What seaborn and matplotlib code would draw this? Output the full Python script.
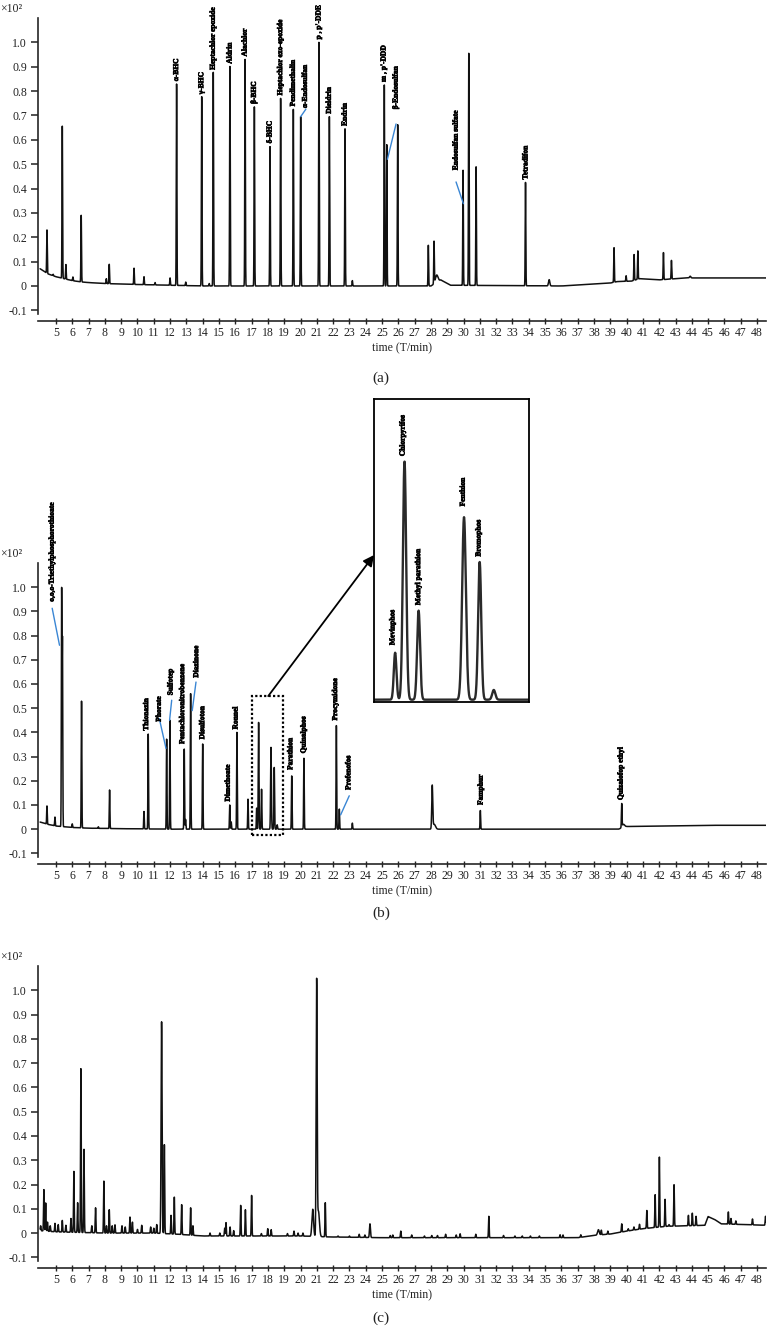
import numpy as np
import matplotlib
matplotlib.use("Agg")
import matplotlib.pyplot as plt
import matplotlib.patheffects as pe
import seaborn as sns
from matplotlib.patches import Rectangle

sns.set_theme(style="ticks")
plt.rcParams["font.family"] = ["Liberation Serif", "DejaVu Serif"]

# ---------------- panel (a) : organochlorine standards ----------------
A_BASE_T = [4.0, 4.5, 5.0, 5.5, 6.0, 6.5, 7.0, 8.0, 10.0, 12.0, 14.0, 28.0, 28.6, 29.2,
            36.0, 38.0, 39.0, 39.4, 40.3, 40.8, 42.0, 43.0, 43.6, 48.6]
A_BASE_Y = [0.072, 0.05, 0.038, 0.03, 0.022, 0.017, 0.014, 0.01, 0.006, 0.003, 0.0, 0.0, 0.025, 0.003,
            0.0, 0.008, 0.012, 0.018, 0.02, 0.03, 0.025, 0.03, 0.033, 0.033]
A_PEAK_T = [4.45, 4.83, 5.39, 5.61, 6.04, 6.55, 8.09, 8.27, 9.79, 10.40, 11.08, 12.0, 12.40, 12.96,
            13.94, 14.4, 14.65, 15.67, 16.60, 17.17, 18.13, 18.78, 19.56, 20.01, 21.13, 21.77, 22.73,
            23.18, 25.14, 25.29, 25.96, 27.84, 28.19, 28.35, 28.9, 29.97, 30.32, 30.77, 33.8, 35.25,
            39.23, 39.97, 40.46, 40.69, 42.26, 42.75, 43.9]
A_PEAK_Y = [0.23, 0.048, 0.656, 0.088, 0.037, 0.29, 0.03, 0.089, 0.073, 0.038, 0.014, 0.033, 0.829, 0.016,
            0.777, 0.01, 0.877, 0.901, 0.930, 0.735, 0.572, 0.770, 0.725, 0.695, 1.0, 0.695, 0.645,
            0.022, 0.825, 0.58, 0.662, 0.167, 0.18, 0.045, 0.012, 0.475, 0.955, 0.489, 0.425, 0.026,
            0.157, 0.042, 0.129, 0.144, 0.137, 0.105, 0.04]
A_WIDE = {28.35: 0.08, 35.25: 0.04, 43.9: 0.04}
A_LAB = ["α-BHC", "γ-BHC", "Heptachlor epoxide", "Aldrin", "Alachlor", "β-BHC", "δ-BHC",
         "Heptachlor exo-epoxide", "Pendimethalin", "α-Endosulfan", "p , p'-DDE", "Dieldrin",
         "Endrin", "m , p'-DDD", "β-Endosulfan", "Endosulfan sulfate", "Tetradifon"]
A_LAB_T = [12.40, 13.94, 14.65, 15.67, 16.60, 17.17, 18.13, 18.78, 19.56, 20.30, 21.13, 21.77,
           22.73, 25.12, 25.86, 29.54, 33.82]
A_LAB_Y = [0.84, 0.787, 0.887, 0.912, 0.942, 0.747, 0.585, 0.782, 0.737, 0.73, 1.012, 0.707,
           0.657, 0.837, 0.725, 0.475, 0.437]
A_LEAD = [((20.01, 0.695), (20.33, 0.726)),
          ((25.33, 0.52), (25.86, 0.665)),
          ((29.54, 0.427), (29.99, 0.338))]

# ---------------- panel (b) : organophosphorus standards ----------------
B_BASE_T = [4.0, 4.5, 5.0, 6.0, 7.0, 9.0, 12.0, 39.5, 40.0, 45.0, 48.6]
B_BASE_Y = [0.03, 0.02, 0.013, 0.007, 0.004, 0.002, 0.0, 0.0, 0.011, 0.016, 0.016]
B_PEAK_T = [4.45, 4.94, 5.35, 5.40, 6.0, 6.57, 7.6, 8.29, 10.40, 10.66, 11.79, 11.99, 12.87, 12.95,
            13.26, 14.0, 15.66, 15.75, 16.10, 16.78, 17.31, 17.43, 17.61, 18.19, 18.39, 18.57,
            19.46, 20.21, 22.2, 22.38, 23.18, 28.08, 28.2, 31.03, 39.7, 39.8]
B_PEAK_Y = [0.096, 0.05, 0.983, 0.775, 0.022, 0.529, 0.01, 0.162, 0.073, 0.393, 0.372, 0.45, 0.331, 0.04,
            0.56, 0.352, 0.10, 0.03, 0.40, 0.124, 0.087, 0.441, 0.165, 0.338, 0.255, 0.018,
            0.22, 0.293, 0.428, 0.083, 0.025, 0.176, 0.02, 0.077, 0.10, 0.02]
B_WIDE = {17.31: 0.017, 17.43: 0.021, 17.61: 0.019, 18.19: 0.024, 18.39: 0.02, 18.57: 0.02,
          28.08: 0.03, 28.2: 0.08, 39.8: 0.08}
B_LAB = ["o,o,o-Triethylphosphorothioate", "Thionazin", "Phorate", "Sulfotep",
         "Pentachloronitrobenzene", "Diazinone", "Disulfoton", "Dimethoate", "Ronnel",
         "Parathion", "Quinalphos", "Procymidone", "Profenofos", "Famphur", "Quizalofop ethyl"]
B_LAB_T = [4.77, 10.56, 11.34, 12.05, 12.77, 13.63, 14.0, 15.57, 16.04, 19.40, 20.21, 22.15,
           22.96, 31.07, 39.66]
B_LAB_Y = [0.94, 0.407, 0.444, 0.553, 0.352, 0.626, 0.371, 0.114, 0.412, 0.245, 0.313, 0.449,
           0.162, 0.10, 0.12]
B_LEAD = [((4.77, 0.913), (5.22, 0.76)),
          ((11.34, 0.457), (11.75, 0.334)),
          ((12.10, 0.533), (11.97, 0.45)),
          ((13.59, 0.608), (13.36, 0.49)),
          ((22.99, 0.138), (22.46, 0.059))]
IN_LAB = ["Mevinphos", "Chlorpyrifos", "Methyl parathion", "Fenthion", "Bromophos"]
IN_LAB_T = [17.28, 17.41, 17.61, 18.18, 18.38]
IN_LAB_Y = [0.101, 0.451, 0.175, 0.358, 0.265]

# ---------------- panel (c) : sample ----------------
C_BASE_T = [4.0, 5.0, 8.0, 11.0, 12.5, 14.0, 20.0, 21.8, 25.0, 37.0, 38.2, 39.0, 40.0, 41.0,
            42.5, 44.8, 45.0, 45.4, 45.8, 48.6]
C_BASE_Y = [0.01, 0.005, 0.0, 0.0, -0.005, -0.012, -0.012, -0.016, -0.019, -0.019, -0.008, -0.004,
            0.008, 0.018, 0.028, 0.032, 0.068, 0.056, 0.038, 0.032]
C_PEAK_T = [4.06, 4.26, 4.37, 4.48, 4.65, 4.94, 5.14, 5.39, 5.61, 5.92, 6.10, 6.33, 6.53, 6.72,
            7.2, 7.43, 7.94, 8.1, 8.27, 8.45, 8.62, 9.05, 9.25, 9.54, 9.69, 10.0, 10.26, 10.81,
            11.0, 11.18, 11.48, 11.65, 12.06, 12.26, 12.71, 13.26, 13.4, 14.45, 15.05, 15.35,
            15.43, 15.68, 15.9, 16.33, 16.62, 17.0, 17.6, 17.99, 18.2, 19.2, 19.6, 19.85, 20.15,
            20.75, 20.99, 21.1, 21.52, 22.3, 23.0, 23.6, 23.95, 24.26, 25.5, 25.66, 26.15, 26.82,
            27.6, 28.05, 28.4, 28.9, 29.55, 29.79, 30.75, 31.55, 32.45, 33.15, 33.6, 34.1, 34.65,
            35.92, 36.1, 37.19, 38.27, 38.45, 38.85, 39.7, 40.1, 40.45, 40.79, 41.24, 41.75, 42.01,
            42.36, 42.6, 42.91, 43.79, 44.03, 44.26, 46.24, 46.4, 46.7, 47.72, 48.52]
C_PEAK_Y = [0.03, 0.179, 0.124, 0.045, 0.03, 0.04, 0.035, 0.052, 0.032, 0.06, 0.254, 0.125, 0.677, 0.345,
            0.03, 0.104, 0.214, 0.03, 0.096, 0.03, 0.034, 0.03, 0.025, 0.066, 0.045, 0.015, 0.032, 0.025,
            0.02, 0.035, 0.87, 0.364, 0.073, 0.148, 0.117, 0.104, 0.03, 0.0, 0.0, 0.02,
            0.043, 0.025, 0.01, 0.114, 0.096, 0.155, -0.002, 0.018, 0.014, -0.002, 0.008, 0.0, 0.0,
            0.098, 1.03, 0.09, 0.125, -0.012, -0.012, -0.005, -0.008, 0.038, -0.01, -0.008, 0.008, -0.008,
            -0.012, -0.01, -0.01, -0.005, -0.008, -0.003, -0.005, 0.069, -0.01, -0.012, -0.012, -0.012, -0.012,
            -0.007, -0.008, -0.007, 0.014, 0.012, 0.008, 0.038, 0.018, 0.025, 0.036, 0.093, 0.158, 0.313,
            0.139, 0.035, 0.199, 0.073, 0.082, 0.069, 0.087, 0.06, 0.05, 0.058, 0.069]
C_WIDE = {11.48: 0.03, 20.75: 0.05, 20.99: 0.03, 21.1: 0.06, 38.27: 0.05, 24.26: 0.03}

TICKS_X = list(range(5, 49))
TICKS_Y = [-0.1, 0, 0.1, 0.2, 0.3, 0.4, 0.5, 0.6, 0.7, 0.8, 0.9, 1.0]
TICKS_Y_LAB = ["-0.1", "0", "0.1", "0.2", "0.3", "0.4", "0.5", "0.6", "0.7", "0.8", "0.9", "1.0"]

t = np.arange(4.03, 48.55, 0.002)


def trace(base_t, base_y, pk_t, pk_y, wide, sig=0.018):
    base = np.interp(t, base_t, base_y)
    y = base.copy()
    for pt, py in zip(pk_t, pk_y):
        h = py - np.interp(pt, base_t, base_y)
        if h <= 0:
            continue
        w = wide.get(pt, sig)
        y += h * np.exp(-0.5 * ((t - pt) / w) ** 2)
    return y


INK = "#111111"
BLUE = "#3a86d4"
W, H = 770, 1335
BOLDER = [pe.withStroke(linewidth=0.45, foreground="black")]

fig = plt.figure(figsize=(7.7, 13.35), dpi=100)
ax_a = fig.add_axes([38 / W, 1021 / H, 728 / W, 296 / H])
ax_b = fig.add_axes([38 / W, 478 / H, 728 / W, 294 / H])
ax_c = fig.add_axes([38 / W, 74 / H, 728 / W, 295 / H])


def style(ax):
    ax.set_xlim(3.9, 48.55)
    ax.set_ylim(-0.115, 1.1)
    sns.despine(ax=ax)
    ax.spines["left"].set_linewidth(1.2)
    ax.spines["bottom"].set_linewidth(1.2)
    ax.spines["bottom"].set_position(("outward", 5))
    ax.set_xticks(TICKS_X)
    ax.set_xticklabels([str(v) for v in TICKS_X])
    ax.set_yticks(TICKS_Y)
    ax.set_yticklabels(TICKS_Y_LAB)
    ax.tick_params(axis="y", direction="out", length=5, width=1.1, pad=3, labelsize=8.5, colors="#222222")
    ax.tick_params(axis="x", direction="inout", length=5, width=1.0, pad=2, labelsize=8.5, colors="#222222")
    ax.set_xlabel("time (T/min)", fontsize=8.5, labelpad=2, color="#222222")
    ax.set_ylabel("")
    ax.annotate("×10²", xy=(0, 1), xycoords="axes fraction", xytext=(-38, 3),
                textcoords="offset pixels", ha="left", va="bottom", fontsize=8.5, color="#222222")


def peak_labels(ax, names, ts, ys, size=5.4):
    for name, lt, ly in zip(names, ts, ys):
        ax.text(lt, ly, name, rotation=90, ha="center", va="bottom", fontsize=size,
                fontweight="bold", color="black", clip_on=False, path_effects=BOLDER)


def leaders(ax, segs):
    for (x0, y0), (x1, y1) in segs:
        ax.plot([x0, x1], [y0, y1], color=BLUE, lw=1.0, clip_on=False)


# (a)
ya = trace(A_BASE_T, A_BASE_Y, A_PEAK_T, A_PEAK_Y, A_WIDE)
sns.lineplot(x=t, y=ya, ax=ax_a, color=INK, linewidth=1.1, estimator=None, sort=False)
style(ax_a)
peak_labels(ax_a, A_LAB, A_LAB_T, A_LAB_Y)
leaders(ax_a, A_LEAD)

# (b)
yb = trace(B_BASE_T, B_BASE_Y, B_PEAK_T, B_PEAK_Y, B_WIDE)
sns.lineplot(x=t, y=yb, ax=ax_b, color=INK, linewidth=1.1, estimator=None, sort=False)
style(ax_b)
peak_labels(ax_b, B_LAB, B_LAB_T, B_LAB_Y)
leaders(ax_b, B_LEAD)
ax_b.add_patch(Rectangle((17.0, -0.026), 1.9, 0.576, fill=False, ls=(0, (1, 1)),
                         lw=1.6, ec="black", clip_on=False, zorder=5))

# zoomed inset of the dotted window
ax_in = fig.add_axes([374 / W, (H - 702) / H, 155 / W, 303 / H])
sns.lineplot(x=t, y=yb, ax=ax_in, color="#2a2a2a", linewidth=1.7, estimator=None, sort=False)
ax_in.set_xlim(17.04, 19.02)
ax_in.set_ylim(-0.0043, 0.557)
ax_in.set_xticks([])
ax_in.set_yticks([])
ax_in.set_xlabel("")
for s in ax_in.spines.values():
    s.set_linewidth(1.3)
    s.set_color("black")
peak_labels(ax_in, IN_LAB, IN_LAB_T, IN_LAB_Y, size=5.4)

ax_b.annotate("", xy=(0.0, 0.485), xycoords=ax_in.transAxes, xytext=(18.02, 0.55),
              textcoords="data", annotation_clip=False,
              arrowprops=dict(arrowstyle="-|>", color="black", lw=1.3, mutation_scale=16,
                              shrinkA=0, shrinkB=0))

# (c)
yc = trace(C_BASE_T, C_BASE_Y, C_PEAK_T, C_PEAK_Y, C_WIDE, sig=0.02)
sns.lineplot(x=t, y=yc, ax=ax_c, color=INK, linewidth=1.1, estimator=None, sort=False)
style(ax_c)

for lab, ypx in [("(a)", 378), ("(b)", 913), ("(c)", 1318)]:
    fig.text(381 / W, 1 - ypx / H, lab, ha="center", va="center", fontsize=11, color="#222222")

fig.savefig("out.png", dpi=100)
